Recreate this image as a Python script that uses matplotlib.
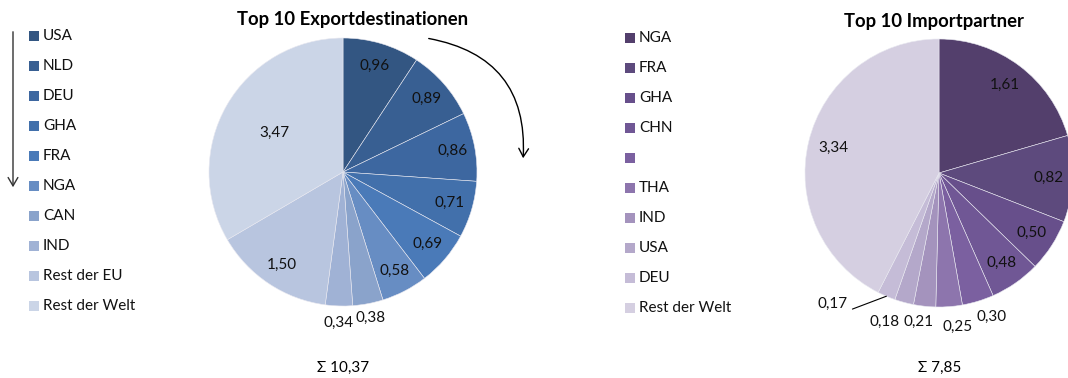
import numpy as np
import matplotlib.pyplot as plt
from matplotlib.patches import Rectangle, FancyArrowPatch

plt.rcParams['font.family'] = ['Lato', 'DejaVu Sans']

W, H = 1068, 378

# Exporte (Mrd.)
export_laender = ["USA", "NLD", "DEU", "GHA", "FRA", "NGA", "CAN", "IND",
                  "Rest der EU", "Rest der Welt"]
export_werte = [0.96, 0.89, 0.86, 0.71, 0.69, 0.58, 0.38, 0.34, 1.50, 3.47]
export_summe = 10.37

# Importe (Mrd.)
import_laender = ["NGA", "FRA", "GHA", "CHN", "", "THA", "IND", "USA", "DEU",
                  "Rest der Welt"]
import_werte = [1.61, 0.82, 0.50, 0.48, 0.30, 0.25, 0.21, 0.18, 0.17, 3.34]
import_summe = 7.85

export_farben = ["#335682", "#385f92", "#3d67a0", "#4270ab", "#4a7ab8",
                 "#678dc3", "#8aa3cb", "#a0b2d5", "#b8c5df", "#cbd5e7"]
import_farben = ["#533f6c", "#5d4a7d", "#674f8b", "#705795", "#7b60a0",
                 "#8d75ad", "#a493bd", "#b4a8ca", "#c5bcd7", "#d5cfe1"]

# Abstand der Beschriftung vom Mittelpunkt (Anteil am Radius) und Winkelversatz
export_abstand = [0.83] * 6 + [1.11, 1.13, 0.83, 0.59]
export_versatz = [0] * 10
import_abstand = [0.82] * 4 + [1.14, 1.16, 1.12, 1.18, 1.26, 0.81]
import_versatz = [0, 0, 0, 0, 3, 2.5, -1.5, -5, -16, 0]

FS = 11


def fx(x):
    return x / W


def fy(y):
    return 1 - y / H


def zahl(v):
    return f"{v:.2f}".replace(".", ",")


fig = plt.figure(figsize=(W / 100, H / 100), dpi=100)


def torte(cx, cy, r, werte, farben, abstand, versatz, leader=None):
    ax = fig.add_axes([fx(cx - r), fy(cy + r), 2 * r / W, 2 * r / H])
    wedges, _ = ax.pie(werte, colors=farben, startangle=90, counterclock=False,
                       radius=1, wedgeprops=dict(edgecolor="#e8e8f0", linewidth=0.4))
    ax.set_xlim(-1, 1)
    ax.set_ylim(-1, 1)
    ax.set_aspect("equal")
    ax.axis("off")
    for i, (w, v, d, dv) in enumerate(zip(wedges, werte, abstand, versatz)):
        mitte = (w.theta1 + w.theta2) / 2
        a = np.deg2rad(mitte + dv)
        pos = (d * np.cos(a), d * np.sin(a))
        if leader == i:
            m = np.deg2rad(mitte)
            ax.annotate(zahl(v), xy=(np.cos(m), np.sin(m)), xytext=pos,
                        ha="center", va="center", fontsize=FS, color="#111111",
                        annotation_clip=False,
                        arrowprops=dict(arrowstyle="-", color="black", lw=0.8,
                                        shrinkA=1, shrinkB=0, relpos=(1.12, 0.1)))
        else:
            ax.text(pos[0], pos[1], zahl(v), ha="center", va="center",
                    fontsize=FS, color="#111111", clip_on=False)
    return ax


def legende(x0, y0, laender, farben):
    for i, (name, farbe) in enumerate(zip(laender, farben)):
        y = y0 + 30 * i
        fig.patches.append(Rectangle((fx(x0), fy(y + 5)), 10 / W, 10 / H,
                                     facecolor=farbe, edgecolor="none",
                                     transform=fig.transFigure))
        fig.text(fx(x0 + 14), fy(y), name, ha="left", va="center",
                 fontsize=FS, color="#111111")


# linke Seite: Exporte
torte(343, 172, 134, export_werte, export_farben, export_abstand, export_versatz)
legende(29, 36, export_laender, export_farben)
fig.text(fx(353), fy(20), "Top 10 Exportdestinationen", ha="center",
         va="center", fontsize=13.3, fontweight="bold")
fig.text(fx(343), fy(368), f"Σ {zahl(export_summe)}", ha="center",
         va="center", fontsize=FS)

# rechte Seite: Importe
torte(939, 173, 134, import_werte, import_farben, import_abstand,
      import_versatz, leader=8)
legende(625, 38, import_laender, import_farben)
fig.text(fx(934), fy(22), "Top 10 Importpartner", ha="center",
         va="center", fontsize=13.3, fontweight="bold")
fig.text(fx(940), fy(368), f"Σ {zahl(import_summe)}", ha="center",
         va="center", fontsize=FS)

# Sortierpfeile
fig.patches.append(FancyArrowPatch((fx(13), fy(29)), (fx(13), fy(190)),
                                   transform=fig.transFigure,
                                   arrowstyle="->,head_length=6,head_width=3.5",
                                   color="#333333", lw=1.0, mutation_scale=1))
fig.patches.append(FancyArrowPatch((fx(426), fy(38)), (fx(523), fy(161)),
                                   transform=fig.transFigure,
                                   connectionstyle="arc3,rad=-0.45",
                                   arrowstyle="->,head_length=6,head_width=3.5",
                                   color="black", lw=1.0, mutation_scale=1))

fig.savefig("out.png", dpi=100, facecolor="white")
